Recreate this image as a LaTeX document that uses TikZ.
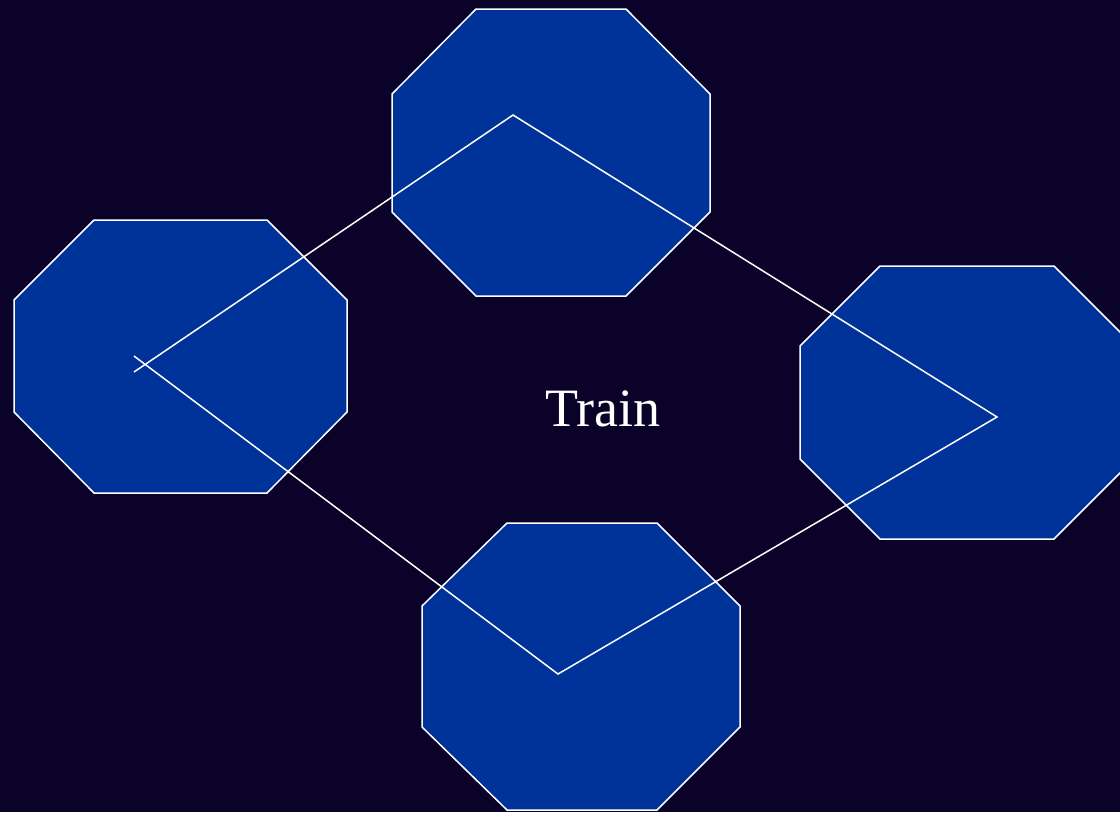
\documentclass[tikz,border=0pt]{standalone}
\usepackage{fontspec}
\setmainfont{Liberation Serif}
\definecolor{bg}{HTML}{0A0228}
\definecolor{oct}{HTML}{003399}
\begin{document}
\begin{tikzpicture}[x=1pt,y=-1pt,
  octo/.style={fill=oct,draw=white,line width=1.5pt,line join=miter},
  link/.style={draw=white,line width=1.5pt}]
\fill[bg] (0,0) rectangle (1120,812);
\useasboundingbox (0,0) rectangle (1120,812);
\begin{scope}
\clip (0,0) rectangle (1120,812);
% top
\draw[octo] (476,9) -- (626,9) -- (710,94) -- (710,212) -- (626,296) -- (476,296) -- (392,212) -- (392,94) -- cycle;
% left
\draw[octo] (94,220) -- (267,220) -- (347,300) -- (347,412) -- (267,493) -- (94,493) -- (14,412) -- (14,300) -- cycle;
% right
\draw[octo] (880,266) -- (1054,266) -- (1134,346) -- (1134,459) -- (1054,539) -- (880,539) -- (800,459) -- (800,346) -- cycle;
% bottom
\draw[octo] (507,523) -- (657,523) -- (740,606) -- (740,727) -- (657,810) -- (507,810) -- (422,727) -- (422,606) -- cycle;
\end{scope}
\coordinate (p0) at (134,356);
\coordinate (pb) at (558,674);
\coordinate (pr) at (997,417);
\coordinate (pt) at (513,115);
\coordinate (p1) at (134,372);
\draw[link] (p0) -- (pb) -- (pr) -- (pt) -- (p1);
\node[text=white,font=\fontsize{54}{64}\selectfont] (lbl) at (603,409) {Train};
\end{tikzpicture}
\end{document}
